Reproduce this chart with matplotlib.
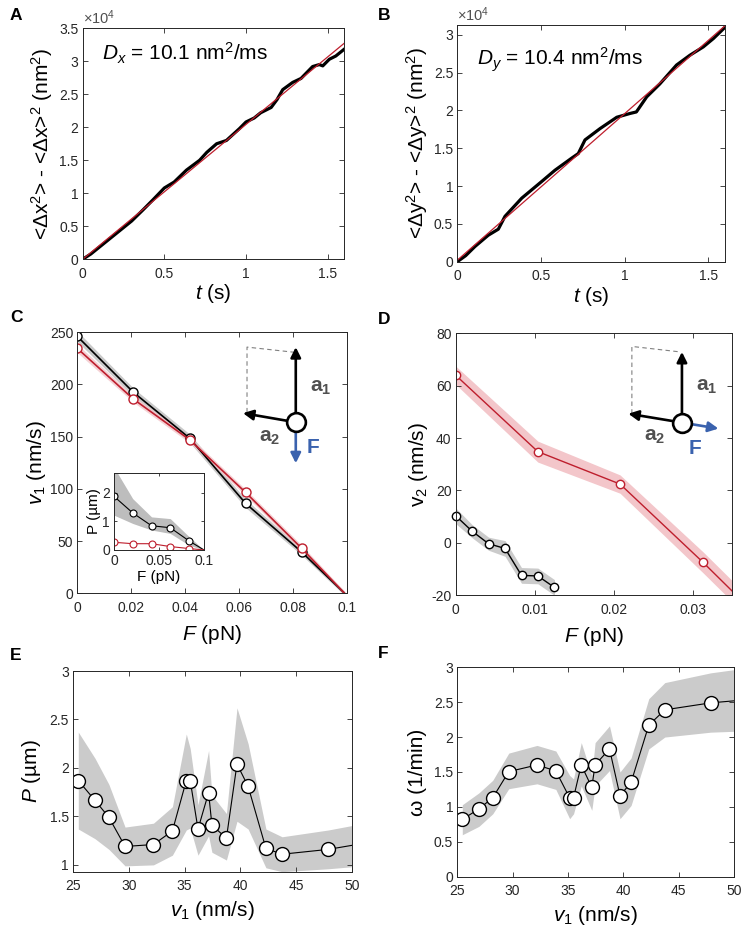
import matplotlib
matplotlib.use("Agg")
import matplotlib.pyplot as plt
from matplotlib.ticker import FuncFormatter, MultipleLocator

plt.rcParams['font.family'] = ['Liberation Sans', 'DejaVu Sans']
plt.rcParams['mathtext.fontset'] = 'custom'
plt.rcParams['mathtext.rm'] = 'Liberation Sans'
plt.rcParams['mathtext.it'] = 'Liberation Sans:italic'
plt.rcParams['mathtext.bf'] = 'Liberation Sans:bold'

# ---- panel A: MSD along x (units of 1e4 nm^2)
t_a = [0, 0.05, 0.1, 0.15, 0.2, 0.25, 0.3, 0.37, 0.43, 0.5, 0.56, 0.635, 0.716, 0.76, 0.82,
       0.88, 0.96, 1.0, 1.05, 1.09, 1.154, 1.19, 1.225, 1.286, 1.337, 1.408, 1.449, 1.47,
       1.51, 1.55, 1.6]
msd_a = [0, 0.08, 0.18, 0.28, 0.38, 0.48, 0.58, 0.75, 0.9, 1.08, 1.17, 1.35, 1.5, 1.62, 1.75,
         1.8, 1.98, 2.08, 2.14, 2.22, 2.3, 2.42, 2.57, 2.68, 2.74, 2.92, 2.95, 2.93,
         3.03, 3.08, 3.18]
fit_a_t = [0, 1.6]
fit_a = [0, 3.27]

# ---- panel B: MSD along y
t_b = [0, 0.05, 0.105, 0.185, 0.245, 0.285, 0.385, 0.504, 0.584, 0.684, 0.723, 0.763, 0.853,
       0.953, 1.032, 1.07, 1.132, 1.21, 1.31, 1.39, 1.47, 1.53, 1.6]
msd_b = [0, 0.08, 0.2, 0.35, 0.43, 0.6, 0.84, 1.06, 1.21, 1.37, 1.43, 1.61, 1.76,
         1.91, 1.96, 1.98, 2.18, 2.35, 2.6, 2.73, 2.84, 2.95, 3.1]
fit_b_t = [0, 1.6]
fit_b = [0.02, 3.12]

# ---- panel C: v1 vs F
F_c = [0, 0.0208, 0.0417, 0.0625, 0.0833, 0.0992]
v1_black = [246, 192.5, 148.5, 86, 39.5, 0]
v1_black_err = [5, 4, 4, 4, 3, 2]
v1_red = [234.5, 186, 147, 96.5, 43, 0]
v1_red_err = [4, 3, 3, 3, 3, 2]

# inset of C: pitch vs F
F_in = [0, 0.0208, 0.0417, 0.0625, 0.0833, 0.1]
P_black = [1.88, 1.3, 0.85, 0.78, 0.32, 0]
P_black_hi = [2.9, 1.8, 1.16, 1.1, 0.47, 0]
P_black_lo = [1.22, 0.93, 0.7, 0.58, 0.17, 0]
P_red = [0.27, 0.22, 0.22, 0.12, 0.05, 0]

# ---- panel D: v2 vs F
F_d_red = [0, 0.0104, 0.0208, 0.0313, 0.0417]
v2_red = [64, 34.8, 22.4, -7.5, -38.5]
v2_red_err = [3.5, 4, 3.5, 4, 4]
F_d_black = [0, 0.00208, 0.00417, 0.00625, 0.00833, 0.0104, 0.0125]
v2_black = [10.3, 4.4, -0.4, -2.2, -12.5, -12.7, -17.1]
v2_black_err = [3, 2.5, 2.5, 3, 3, 3, 3]

# ---- panels E, F: pitch and rotation rate vs v1
v1_bins = [25.45, 26.95, 28.2, 29.65, 32.2, 33.9, 35.15, 35.5, 36.2, 37.15, 37.45, 38.75,
           39.7, 40.7, 42.3, 43.75, 47.9, 53.0]
P_e = [1.87, 1.665, 1.49, 1.19, 1.21, 1.35, 1.87, 1.87, 1.37, 1.745, 1.41, 1.275,
       2.04, 1.81, 1.17, 1.11, 1.16, 1.26]
P_e_hi = [2.37, 2.1, 1.83, 1.39, 1.43, 1.6, 2.35, 2.2, 1.62, 2.18, 1.72, 1.53,
          2.62, 2.25, 1.37, 1.29, 1.36, 1.47]
P_e_lo = [1.37, 1.27, 1.16, 0.99, 1.0, 1.1, 1.36, 1.38, 1.1, 1.3, 1.13, 1.05,
          1.45, 1.37, 0.97, 0.93, 0.96, 1.01]
w_f = [0.82, 0.97, 1.13, 1.505, 1.6, 1.515, 1.13, 1.13, 1.6, 1.28, 1.6, 1.83,
       1.16, 1.35, 2.17, 2.39, 2.49, 2.56]
w_f_hi = [1.03, 1.2, 1.38, 1.77, 1.88, 1.8, 1.45, 1.4, 1.92, 1.45, 1.92, 2.16,
          1.5, 1.7, 2.55, 2.78, 2.92, 3.03]
w_f_lo = [0.6, 0.72, 0.9, 1.26, 1.33, 1.25, 0.83, 0.9, 1.3, 0.95, 1.3, 1.52,
          0.83, 1.02, 1.83, 2.0, 2.07, 2.1]

DARK = '#262626'
RED = '#BE1E2D'
RED_BAND = '#F3C6CA'
GRAY_BAND = '#CBCBCB'
BLUE = '#3A62AE'
LAB = 15
TICK = 10
fmt = FuncFormatter(lambda v, p: '%g' % round(v, 6))


def style(ax, fs=TICK):
    ax.tick_params(direction='in', top=True, right=True, length=3.5, width=0.6,
                   colors=DARK, labelsize=fs, pad=3)
    ax.tick_params(axis='x', pad=5.5)
    for s in ax.spines.values():
        s.set_color(DARK)
        s.set_linewidth(0.7)
    ax.xaxis.set_major_formatter(fmt)
    ax.yaxis.set_major_formatter(fmt)


def band(x, lo, hi):
    return [a - b for a, b in zip(x, lo)], [a + b for a, b in zip(x, hi)]


def diagram(ax, c, a1, a2, ftip, dash, la1, la2, lf):
    ax.plot([p[0] for p in dash], [p[1] for p in dash], transform=ax.transAxes,
            ls=(0, (4, 3)), color='#808080', lw=0.8, clip_on=False)
    for tip, col in ((a1, 'k'), (a2, 'k'), (ftip, BLUE)):
        ax.annotate('', xy=tip, xytext=c, xycoords='axes fraction', textcoords='axes fraction',
                    arrowprops=dict(arrowstyle='-|>', color=col, lw=1.9, mutation_scale=15,
                                    shrinkA=0, shrinkB=0), zorder=4)
    ax.plot(c[0], c[1], 'o', transform=ax.transAxes, ms=13.5, mfc='white', mec='k',
            mew=1.9, zorder=6, clip_on=False)
    ax.text(*la1, r'$\mathbf{a}_\mathbf{1}$', transform=ax.transAxes, fontsize=15,
            color='#505050', ha='left', va='center')
    ax.text(*la2, r'$\mathbf{a}_\mathbf{2}$', transform=ax.transAxes, fontsize=15,
            color='#505050', ha='center', va='center')
    ax.text(*lf, 'F', transform=ax.transAxes, fontsize=15, fontweight='bold',
            color=BLUE, ha='center', va='center')


fig = plt.figure(figsize=(7.47, 9.39), dpi=100)

# ---------------- A
axA = fig.add_axes([0.1107, 0.7239, 0.3498, 0.246])
axA.plot(t_a, msd_a, color='k', lw=2.3, solid_joinstyle='round')
axA.plot(fit_a_t, fit_a, color=RED, lw=0.9)
axA.set_xlim(0, 1.6)
axA.set_ylim(0, 3.5)
axA.xaxis.set_major_locator(MultipleLocator(0.5))
axA.yaxis.set_major_locator(MultipleLocator(0.5))
style(axA)
axA.text(0.0, 1.005, r'$\times$10$^4$', transform=axA.transAxes, fontsize=10.5,
         color='#505050', va='bottom')
axA.text(0.075, 0.86, r'$D_x$ = 10.1 nm$^2$/ms', transform=axA.transAxes, fontsize=15)
axA.set_xlabel(r'$t$ (s)', fontsize=LAB, labelpad=1)
axA.set_ylabel(r'<$\mathit{\Delta}$x$^2$> - <$\mathit{\Delta}$x>$^2$ (nm$^2$)', fontsize=LAB,
               labelpad=3)

# ---------------- B
axB = fig.add_axes([0.6122, 0.7213, 0.3584, 0.2521])
axB.plot(t_b, msd_b, color='k', lw=2.3, solid_joinstyle='round')
axB.plot(fit_b_t, fit_b, color=RED, lw=0.9)
axB.set_xlim(0, 1.6)
axB.set_ylim(0, 3.13)
axB.xaxis.set_major_locator(MultipleLocator(0.5))
axB.yaxis.set_major_locator(MultipleLocator(0.5))
style(axB)
axB.text(0.0, 1.005, r'$\times$10$^4$', transform=axB.transAxes, fontsize=10.5,
         color='#505050', va='bottom')
axB.text(0.075, 0.83, r'$D_y$ = 10.4 nm$^2$/ms', transform=axB.transAxes, fontsize=15)
axB.set_xlabel(r'$t$ (s)', fontsize=LAB, labelpad=1)
axB.set_ylabel(r'<$\mathit{\Delta}$y$^2$> - <$\mathit{\Delta}$y>$^2$ (nm$^2$)', fontsize=LAB,
               labelpad=3)

# ---------------- C
axC = fig.add_axes([0.1035, 0.3682, 0.3606, 0.278])
lo, hi = band(v1_black, v1_black_err, v1_black_err)
axC.fill_between(F_c, lo, hi, color='#BDBDBD', lw=0, alpha=0.8)
lo, hi = band(v1_red, v1_red_err, v1_red_err)
axC.fill_between(F_c, lo, hi, color=RED_BAND, lw=0, alpha=0.8)
axC.plot(F_c, v1_black, color='k', lw=1.2, marker='o', ms=6.5, mfc='white', mec='k',
         mew=1.0, markevery=[0, 1, 2, 3, 4])
axC.plot(F_c, v1_red, color=RED, lw=1.2, marker='o', ms=6.5, mfc='white', mec=RED,
         mew=1.0, markevery=[0, 1, 2, 3, 4])
axC.set_xlim(0, 0.1)
axC.set_ylim(0, 250)
axC.xaxis.set_major_locator(MultipleLocator(0.02))
axC.yaxis.set_major_locator(MultipleLocator(50))
style(axC)
axC.set_xlabel(r'$F$ (pN)', fontsize=LAB, labelpad=6)
axC.set_ylabel(r'$v_1$ (nm/s)', fontsize=LAB, labelpad=1)
diagram(axC, (0.811, 0.655), (0.811, 0.943), (0.615, 0.69), (0.811, 0.498),
        [(0.63, 0.693), (0.63, 0.943), (0.807, 0.923)],
        (0.865, 0.79), (0.715, 0.598), (0.875, 0.56))

# inset
axI = fig.add_axes([0.1526, 0.4143, 0.1205, 0.082])
axI.fill_between(F_in, P_black_lo, P_black_hi, color='#BDBDBD', lw=0)
axI.plot(F_in, P_black, color='k', lw=0.8, marker='o', ms=5, mfc='white', mec='k',
         mew=0.8, markevery=[0, 1, 2, 3, 4])
axI.plot(F_in, P_red, color=RED, lw=0.8, marker='o', ms=5, mfc='white', mec=RED,
         mew=0.8, markevery=[0, 1, 2, 3, 4])
axI.set_xlim(0, 0.1)
axI.set_ylim(0, 2.7)
axI.set_xticks([0, 0.05, 0.1])
axI.set_yticks([0, 1, 2])
style(axI, fs=TICK)
axI.tick_params(length=2.5)
axI.tick_params(axis='x', pad=3)
axI.set_xlabel('F (pN)', fontsize=11, labelpad=1)
axI.set_ylabel('P (µm)', fontsize=11, labelpad=1)

# ---------------- D
axD = fig.add_axes([0.61, 0.3663, 0.3703, 0.2787])
lo, hi = band(v2_red, v2_red_err, v2_red_err)
axD.fill_between(F_d_red, lo, hi, color=RED_BAND, lw=0)
lo, hi = band(v2_black, v2_black_err, v2_black_err)
axD.fill_between(F_d_black, lo, hi, color=GRAY_BAND, lw=0)
axD.plot(F_d_red, v2_red, color=RED, lw=1.0, marker='o', ms=6, mfc='white', mec=RED, mew=1.0)
axD.plot(F_d_black, v2_black, color='k', lw=1.0, marker='o', ms=6, mfc='white', mec='k',
         mew=1.0, clip_on=False)
axD.set_xlim(0, 0.035)
axD.set_ylim(-20, 80)
axD.xaxis.set_major_locator(MultipleLocator(0.01))
axD.yaxis.set_major_locator(MultipleLocator(20))
style(axD)
axD.set_xlabel(r'$F$ (pN)', fontsize=LAB, labelpad=6)
axD.set_ylabel('v$_2$ (nm/s)', fontsize=LAB, labelpad=1)
diagram(axD, (0.818, 0.659), (0.818, 0.929), (0.624, 0.693), (0.95, 0.636),
        [(0.637, 0.693), (0.637, 0.95), (0.812, 0.929)],
        (0.87, 0.795), (0.721, 0.604), (0.866, 0.56))

# ---------------- E
axE = fig.add_axes([0.0981, 0.0717, 0.3727, 0.2137])
axE.fill_between(v1_bins, P_e_lo, P_e_hi, color=GRAY_BAND, lw=0)
axE.plot(v1_bins, P_e, color='k', lw=0.8, marker='o', ms=10, mfc='white', mec='k', mew=1.0)
axE.set_xlim(25, 50)
axE.set_ylim(0.93, 3)
axE.xaxis.set_major_locator(MultipleLocator(5))
axE.yaxis.set_major_locator(MultipleLocator(0.5))
style(axE)
axE.set_xlabel(r'$v_1$ (nm/s)', fontsize=LAB, labelpad=4)
axE.set_ylabel(r'$P$ (µm)', fontsize=LAB, labelpad=5)

# ---------------- F
axF = fig.add_axes([0.6122, 0.0664, 0.3704, 0.223])
axF.fill_between(v1_bins, w_f_lo, w_f_hi, color=GRAY_BAND, lw=0)
axF.plot(v1_bins, w_f, color='k', lw=0.8, marker='o', ms=10, mfc='white', mec='k', mew=1.0)
axF.set_xlim(25, 50)
axF.set_ylim(0, 3)
axF.xaxis.set_major_locator(MultipleLocator(5))
axF.yaxis.set_major_locator(MultipleLocator(0.5))
style(axF)
axF.set_xlabel(r'$v_1$ (nm/s)', fontsize=LAB, labelpad=4)
axF.set_ylabel('ω (1/min)', fontsize=LAB, labelpad=5)

# panel letters
for lab, x, y in (('A', 10, 15), ('B', 378, 15), ('C', 10, 318), ('D', 378, 320),
                  ('E', 10, 655), ('F', 378, 653)):
    fig.text(x / 747, 1 - y / 939, lab, fontsize=12.5, fontweight='bold', va='center')

fig.savefig('out.png', dpi=100)
